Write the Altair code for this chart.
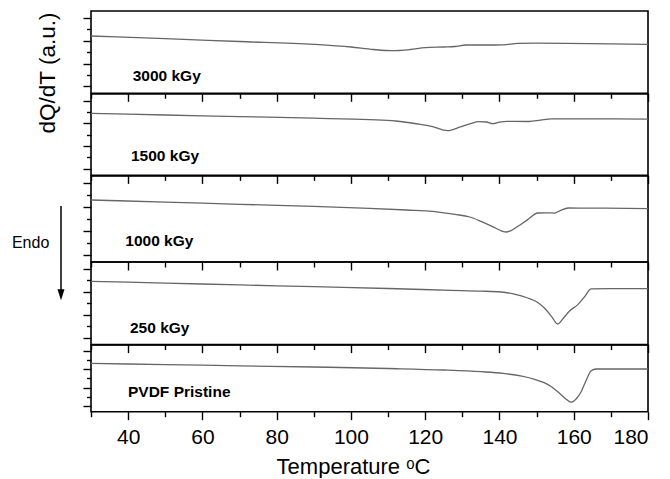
import json
import altair as alt
import pandas as pd

# ---- data (temperature in degC, signal in a.u. = height above panel floor)
temp_3000 = [30, 50, 70, 90, 100, 106, 111, 116, 120, 125, 128, 131, 136, 141, 145, 150, 158, 170, 180]
dq_3000 = [57.3, 54.6, 51.8, 49.0, 46.3, 43.8, 42.6, 43.8, 45.6, 46.3, 46.8, 48.3, 48.3, 48.5, 50.0, 50.1, 50.0, 49.5, 49.0]

temp_1500 = [30, 50, 70, 90, 105, 112, 118, 122, 126, 129.5, 132, 134.5, 136.5, 138.2, 140, 142, 148, 151, 154, 165, 180]
dq_1500 = [62.0, 60.4, 58.8, 57.2, 55.7, 54.4, 51.4, 48.7, 44.7, 48.5, 51.5, 53.7, 53.4, 51.7, 53.2, 54.0, 53.9, 55.2, 56.5, 56.5, 56.3]

temp_1000 = [30, 50, 70, 90, 105, 115, 122, 128, 132, 135, 138, 140.5, 141.8, 143, 145, 147.6, 150.3, 152.5, 154.8, 156.5, 158.5, 165, 180]
dq_1000 = [62.0, 59.9, 57.7, 55.6, 53.6, 52.0, 50.7, 47.6, 45.0, 40.7, 35.7, 31.2, 30.0, 31.2, 35.7, 42.4, 49.0, 49.2, 48.9, 51.7, 54.0, 53.9, 53.4]

temp_250 = [30, 50, 70, 90, 110, 127, 135, 140.4, 144, 147.6, 150, 152.1, 154, 155.7, 157.2, 158.8, 161.1, 162.8, 164.7, 170, 180]
dq_250 = [63.3, 61.5, 59.7, 57.9, 56.1, 54.3, 53.5, 52.6, 50.5, 46.6, 42.8, 36.6, 28.3, 20.6, 26.3, 33.3, 40.0, 47.3, 55.8, 56.0, 56.0]

temp_pristine = [30, 50, 70, 90, 110, 125, 135, 141, 146, 149.5, 152, 154, 156, 157.8, 159.3, 160.7, 162, 163.3, 164.7, 166, 170, 180]
dq_pristine = [48.3, 47.1, 45.9, 44.7, 43.2, 41.7, 40.0, 38.3, 35.5, 32.3, 29.0, 25.0, 19.0, 13.0, 9.5, 13.0, 20.0, 31.0, 41.0, 42.7, 42.7, 42.7]

panel_labels = ["3000 kGy", "1500 kGy", "1000 kGy", "250 kGy", "PVDF Pristine"]
x_tick_values = list(range(30, 181, 10))
x_label_values = list(range(40, 181, 20))

series = [
    (temp_3000, dq_3000),
    (temp_1500, dq_1500),
    (temp_1000, dq_1000),
    (temp_250, dq_250),
    (temp_pristine, dq_pristine),
]

# ---- layout / style
FONT = "Liberation Sans"
PLOT_W = 557
panel_heights = [82.3, 81.4, 86.0, 82.6, 66.7]
label_pos = [(41.7, 69.7), (40.0, 67.4), (34.3, 70.3), (39.0, 71.0), (37.0, 51.7)]

major_expr = "datum.value % 20 === 0"
x_tick_size = {"condition": {"test": major_expr, "value": 8}, "value": 5}

panels = []
n = len(series)
for i, ((t, v), lab, h, (lx, ly)) in enumerate(zip(series, panel_labels, panel_heights, label_pos)):
    df = pd.DataFrame({"T": t, "v": v})
    yticks = [round(h * (0.6 + k) / 7.2, 3) for k in range(7)]
    long_ticks = yticks[0::2]
    y_tick_size = {
        "condition": {"test": f"indexof({json.dumps(long_ticks)}, datum.value) >= 0", "value": 8},
        "value": 4.5,
    }
    last = i == n - 1
    if last:
        x_axis = alt.Axis(
            values=x_tick_values, domain=False, grid=False, tickSize=x_tick_size,
            labelExpr=f"{major_expr} ? datum.label : ''", labelFontSize=21, labelFont=FONT,
            labelPadding=7, labelColor="black",
            title="Temperature ᵒC", titleFont=FONT, titleFontSize=22, titleFontWeight="normal",
            titleColor="black", titleX=262, titleY=61.5, titleAlign="center", titleBaseline="alphabetic",
        )
    else:
        x_axis = alt.Axis(values=x_tick_values, domain=False, grid=False, labels=False,
                          tickSize=x_tick_size, title=None)
    if i == 0:
        y_axis = alt.Axis(values=yticks, domain=False, grid=False, labels=False, tickSize=y_tick_size,
                          title="dQ/dT (a.u.)", titleFont=FONT, titleFontSize=22.5, titleFontWeight="normal",
                          titleColor="black", titleAngle=270, titleX=-37, titleY=61.5,
                          titleAlign="center", titleBaseline="alphabetic")
    else:
        y_axis = alt.Axis(values=yticks, domain=False, grid=False, labels=False, tickSize=y_tick_size,
                          title=None)

    line = alt.Chart(df).mark_line(color="#666666", strokeWidth=1.3, interpolate="monotone").encode(
        x=alt.X("T:Q", scale=alt.Scale(domain=[30, 180], nice=False, zero=False), axis=x_axis),
        y=alt.Y("v:Q", scale=alt.Scale(domain=[0, h], nice=False, zero=False), axis=y_axis),
    )
    text = alt.Chart(pd.DataFrame({"label": [lab]})).mark_text(
        font=FONT, fontSize=15.5, fontWeight="bold", align="left", baseline="alphabetic", color="black"
    ).encode(x=alt.value(lx), y=alt.value(ly), text="label:N")
    layers = [line, text]
    if i == 2:
        endo = alt.Chart(pd.DataFrame({"label": ["Endo"]})).mark_text(
            font=FONT, fontSize=16, align="right", baseline="alphabetic", color="black"
        ).encode(x=alt.value(-41.7), y=alt.value(71.7), text="label:N")
        arrow = alt.Chart(pd.DataFrame({"a": [0]})).mark_rule(color="black", strokeWidth=1.5).encode(
            x=alt.value(-30), y=alt.value(30), y2=alt.value(114)
        )
        head = alt.Chart(pd.DataFrame({"a": [0]})).mark_point(
            shape="M-0.64,-1L0.64,-1L0,1Z", filled=True, size=121, color="black", opacity=1, strokeWidth=0
        ).encode(x=alt.value(-30), y=alt.value(118.7))
        layers += [endo, arrow, head]
    panels.append(alt.layer(*layers).properties(width=PLOT_W, height=h))

chart = alt.vconcat(*panels, spacing=0, bounds="flush").properties(
    padding={"left": 11, "top": 10, "right": 5, "bottom": 0}
).configure_view(stroke="black", strokeWidth=1.6).configure_axis(
    tickColor="black", tickWidth=1.4
)

chart.save("out.html", embed_options={"renderer": "svg", "actions": False})
